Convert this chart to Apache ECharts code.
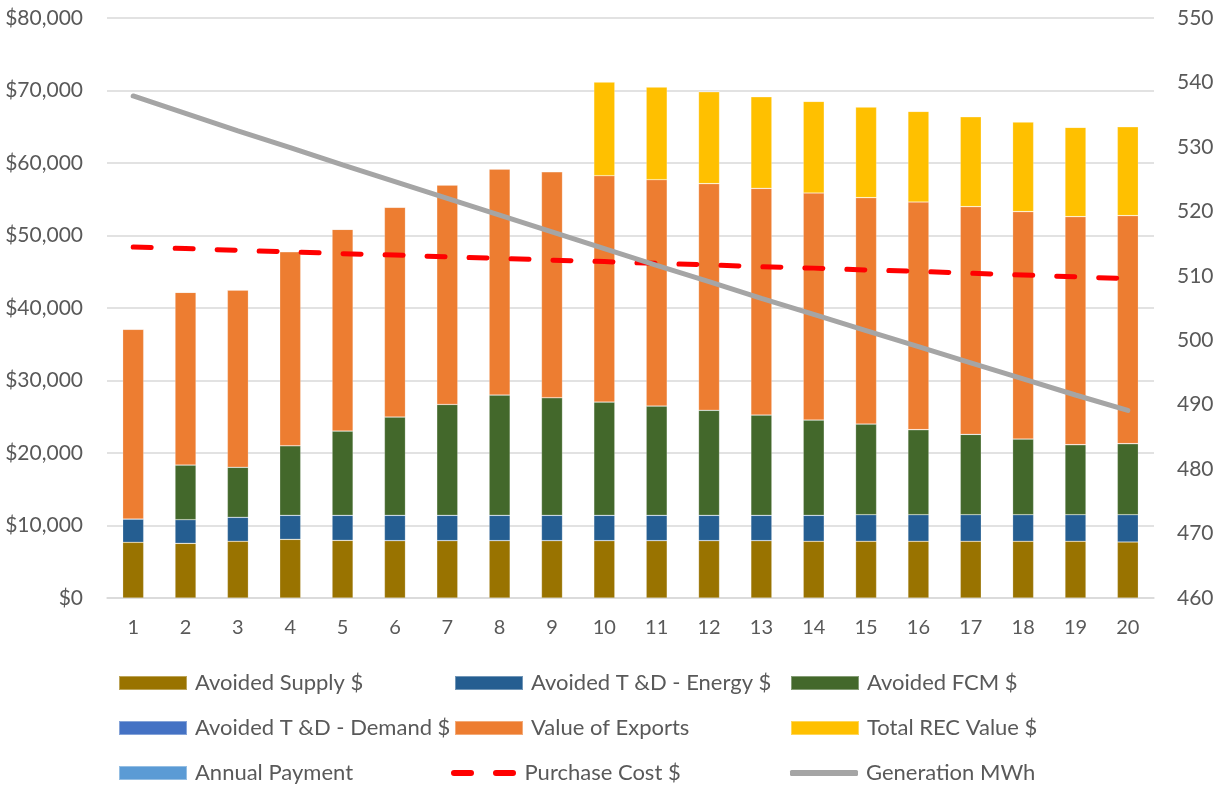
<!DOCTYPE html>
<html>
<head>
<meta charset="utf-8">
<script src="https://cdn.jsdelivr.net/npm/echarts@6/dist/echarts.min.js"></script>
<style>
html,body{margin:0;padding:0;background:#fff;}
#chart{width:1225px;height:787px;}
</style>
</head>
<body>
<div id="chart"></div>
<script>
const years = ['1','2','3','4','5','6','7','8','9','10','11','12','13','14','15','16','17','18','19','20'];
const avoidedSupply = [7680, 7540, 7820, 8090, 7950, 7910, 7910, 7910, 7910, 7910, 7910, 7910, 7910, 7820, 7820, 7820, 7820, 7820, 7820, 7720];
const avoidedTDEnergy = [3220, 3260, 3310, 3310, 3450, 3490, 3490, 3490, 3490, 3490, 3490, 3490, 3490, 3580, 3670, 3670, 3670, 3670, 3670, 3770];
const avoidedFCM = [0, 7540, 6900, 9600, 11630, 13570, 15300, 16600, 16230, 15630, 15080, 14490, 13840, 13150, 12510, 11730, 11080, 10440, 9660, 9800];
const avoidedTDDemand = [0, 0, 0, 0, 0, 0, 0, 0, 0, 0, 0, 0, 0, 0, 0, 0, 0, 0, 0, 0];
const valueOfExports = [26160, 23820, 24450, 26770, 27820, 28920, 30270, 31170, 31170, 31220, 31220, 31260, 31260, 31310, 31220, 31400, 31410, 31360, 31450, 31450];
const totalREC = [0, 0, 0, 0, 0, 0, 0, 0, 0, 12920, 12780, 12690, 12650, 12640, 12500, 12500, 12410, 12370, 12320, 12270];
const annualPayment = [0, 0, 0, 0, 0, 0, 0, 0, 0, 0, 0, 0, 0, 0, 0, 0, 0, 0, 0, 0];
const purchaseCost = [48400, 48200, 47950, 47750, 47500, 47300, 47050, 46850, 46600, 46400, 46150, 45950, 45700, 45500, 45250, 45050, 44800, 44550, 44300, 44050];
const generationMWh = [537.9, 535.2, 532.5, 529.9, 527.2, 524.6, 522.0, 519.4, 516.8, 514.2, 511.6, 509.1, 506.5, 504.0, 501.5, 499.0, 496.5, 494.0, 491.5, 489.1];

const FONT = 'Lato';
const TXT = '#595959';
const chart = echarts.init(document.getElementById('chart'), null, {renderer: 'canvas'});

function bar(name, data, color) {
  return {
    name: name, type: 'bar', stack: 'total', data: data, barWidth: 21,
    itemStyle: {color: color, borderColor: 'rgba(255,255,255,0.35)', borderWidth: 0.6},
    emphasis: {disabled: true}
  };
}

const colLeft = [118, 454, 790];
const rowCenter = [683, 728, 773];
const legendItems = [
  {name: 'Avoided Supply $', col: 0, row: 0},
  {name: 'Avoided T &D - Energy $', col: 1, row: 0},
  {name: 'Avoided FCM $', col: 2, row: 0},
  {name: 'Avoided T &D - Demand $', col: 0, row: 1},
  {name: 'Value of Exports', col: 1, row: 1},
  {name: 'Total REC Value $', col: 2, row: 1},
  {name: 'Annual Payment', col: 0, row: 2},
  {name: 'Purchase Cost $', col: 1, row: 2, icon: 'path://M3,0L20,0A3,3 0 0 1 20,6L3,6A3,3 0 0 1 3,0Z M45,0L62,0A3,3 0 0 1 62,6L45,6A3,3 0 0 1 45,0Z', w: 66, h: 6, dx: -3, color: '#FF0000'},
  {name: 'Generation MWh', col: 2, row: 2, icon: 'roundRect', w: 68, h: 6, color: '#A5A5A5'}
];
const legends = legendItems.map(it => {
  const h = it.h || 14;
  const d = {name: it.name, icon: it.icon || 'rect'};
  if (it.color) { d.itemStyle = {color: it.color, borderWidth: 0}; d.lineStyle = {width: 0}; }
  return {
    orient: 'horizontal', left: colLeft[it.col] + (it.dx || 0), top: rowCenter[it.row] - 11,
    padding: 0, itemWidth: it.w || 68, itemHeight: h,
    textStyle: {fontFamily: FONT, fontSize: 22, color: TXT, lineHeight: 22, padding: [0, 0, 0, 3]},
    selectedMode: false, data: [d]
  };
});

chart.setOption({
  animation: false,
  backgroundColor: '#fff',
  textStyle: {fontFamily: FONT},
  grid: {left: 107, right: 71, top: 18, bottom: 189, containLabel: false},
  legend: legends,
  xAxis: {
    type: 'category', data: years,
    axisLine: {show: true, lineStyle: {color: '#D9D9D9', width: 1.5}},
    axisTick: {show: false},
    axisLabel: {color: TXT, fontFamily: FONT, fontSize: 20, margin: 20}
  },
  yAxis: [
    {
      type: 'value', min: 0, max: 80000, interval: 10000,
      axisLine: {show: false}, axisTick: {show: false},
      splitLine: {lineStyle: {color: '#D9D9D9', width: 1.5}},
      axisLabel: {color: TXT, fontFamily: FONT, fontSize: 21, margin: 24,
        formatter: v => '$' + v.toLocaleString('en-US')}
    },
    {
      type: 'value', min: 460, max: 550, interval: 10, position: 'right',
      axisLine: {show: false}, axisTick: {show: false}, splitLine: {show: false},
      axisLabel: {color: TXT, fontFamily: FONT, fontSize: 21, margin: 23}
    }
  ],
  series: [
    bar('Avoided Supply $', avoidedSupply, '#997300'),
    bar('Avoided T &D - Energy $', avoidedTDEnergy, '#255E91'),
    bar('Avoided FCM $', avoidedFCM, '#43682B'),
    bar('Avoided T &D - Demand $', avoidedTDDemand, '#4472C4'),
    bar('Value of Exports', valueOfExports, '#ED7D31'),
    bar('Total REC Value $', totalREC, '#FFC000'),
    bar('Annual Payment', annualPayment, '#5B9BD5'),
    {
      name: 'Purchase Cost $', type: 'line', data: purchaseCost, yAxisIndex: 0,
      symbol: 'none', z: 5,
      itemStyle: {color: '#FF0000'},
      lineStyle: {color: '#FF0000', width: 5, type: [18, 24], cap: 'round'},
      emphasis: {disabled: true}
    },
    {
      name: 'Generation MWh', type: 'line', data: generationMWh, yAxisIndex: 1,
      symbol: 'none', z: 6,
      itemStyle: {color: '#A5A5A5'},
      lineStyle: {color: '#A5A5A5', width: 5, cap: 'round'},
      emphasis: {disabled: true}
    }
  ]
});
</script>
</body>
</html>
